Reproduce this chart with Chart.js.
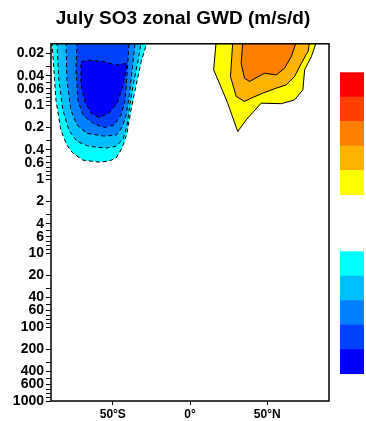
<!DOCTYPE html>
<html>
<head>
<meta charset="utf-8">
<script src="https://cdn.jsdelivr.net/npm/chart.js@4"></script>
<style>
  body { margin: 0; background: #fff; }
</style>
</head>
<body>
<canvas id="gwd" width="366" height="421"></canvas>
<script>
// contour outlines: [latitude, pressure hPa]
// negative (southern) cell, outer to inner
const neg1 = [[-89.4, 0.014], [-88.1, 0.0337], [-86.8, 0.0855], [-83.6, 0.218], [-79.7, 0.347], [-75.8, 0.446], [-69.3, 0.554], [-58.9, 0.589], [-52.4, 0.57], [-47.9, 0.52], [-44.0, 0.381], [-40.8, 0.241], [-38.2, 0.117], [-34.9, 0.054], [-31.6, 0.0258], [-27.7, 0.014]];
const neg2 = [[-86.2, 0.014], [-84.9, 0.0459], [-82.3, 0.117], [-78.4, 0.218], [-73.2, 0.31], [-65.4, 0.36], [-54.3, 0.381], [-47.9, 0.36], [-43.3, 0.29], [-40.7, 0.186], [-38.8, 0.095], [-36.2, 0.0459], [-33.6, 0.0247], [-31.6, 0.014]];
const neg3 = [[-80.3, 0.014], [-79.7, 0.0459], [-77.1, 0.117], [-73.2, 0.186], [-66.7, 0.241], [-55.6, 0.262], [-47.9, 0.255], [-44.0, 0.2], [-41.4, 0.137], [-39.4, 0.077], [-37.5, 0.0337], [-35.5, 0.014]];
const neg4 = [[-73.2, 0.014], [-73.8, 0.0337], [-72.6, 0.0855], [-69.3, 0.137], [-62.1, 0.18], [-55.6, 0.2], [-49.2, 0.186], [-44.7, 0.137], [-42.0, 0.0855], [-40.8, 0.0394], [-39.4, 0.014]];
const neg5 = [[-70.6, 0.0258], [-65.4, 0.0247], [-55.6, 0.0258], [-47.9, 0.0287], [-40.7, 0.0271], [-43.3, 0.0537], [-47.2, 0.094], [-52.4, 0.128], [-58.9, 0.148], [-64.1, 0.128], [-68.0, 0.09], [-70.6, 0.0537]];
// positive (northern) cell, outer to inner
const pos1 = [[16.9, 0.014], [15.3, 0.0333], [19.0, 0.0504], [24.4, 0.094], [30.9, 0.227], [36.4, 0.158], [46.1, 0.094], [59.1, 0.0955], [67.7, 0.0848], [73.1, 0.0621], [74.2, 0.0333], [78.6, 0.022], [81.8, 0.014]];
const pos2 = [[27.7, 0.014], [26.2, 0.041], [29.9, 0.0762], [35.3, 0.0891], [39.6, 0.0804], [47.1, 0.0689], [55.8, 0.0589], [62.3, 0.0532], [67.7, 0.041], [72.1, 0.0271], [76.4, 0.0188], [77.5, 0.014]];
const pos3 = [[34.2, 0.014], [33.1, 0.0271], [35.3, 0.0432], [38.5, 0.0478], [48.2, 0.037], [55.8, 0.039], [61.2, 0.0316], [65.6, 0.022], [68.8, 0.014]];

// colour scale, lowest positive level first / weakest negative level first
const posColors = ["#FFFF00", "#FFB300", "#FF8000", "#FF4000", "#FF0000"];
const negColors = ["#00FFFF", "#00BFFF", "#0080FF", "#0040FF", "#0000FF"];

const latTicks = [-50, 0, 50];
const latLabels = ["50°S", "0°", "50°N"];
const presLabels = [0.02, 0.04, 0.06, 0.1, 0.2, 0.4, 0.6, 1, 2, 4, 6, 10, 20, 40, 60, 100, 200, 400, 600, 1000];

const FONT = "'Liberation Sans', Arial, sans-serif";

// minor ticks at every 1..9 x 10^n between 0.02 and 1000
const presTicks = [];
for (let e = -2; e <= 3; e++) {
  for (let m = 1; m <= 9; m++) {
    const v = Number((m * Math.pow(10, e)).toPrecision(3));
    if (v >= 0.02 && v <= 1000) presTicks.push(v);
  }
}

function contour(points, color, dashed, order) {
  return {
    data: points.concat([points[0]]).map(([x, y]) => ({ x, y })),
    showLine: true,
    fill: "shape",
    backgroundColor: color,
    borderColor: "#000",
    borderWidth: 1,
    borderDash: dashed ? [4, 3] : [],
    pointRadius: 0,
    tension: 0,
    order
  };
}

const colorBar = {
  id: "colorBar",
  afterDraw(chart) {
    const { ctx, chartArea: a } = chart;
    ctx.save();
    const x = a.right + 11, w = 24, h = 24.45;
    // positive block: red on top, yellow at bottom
    posColors.slice().reverse().forEach((c, i) => {
      ctx.fillStyle = c;
      ctx.fillRect(x, 72.3 + i * h, w, h + 0.5);
    });
    negColors.forEach((c, i) => {
      ctx.fillStyle = c;
      ctx.fillRect(x, 251.3 + i * h, w, h + 0.5);
    });
    ctx.strokeStyle = "#000";
    ctx.lineWidth = 1.5;
    ctx.strokeRect(a.left, a.top, a.right - a.left, a.bottom - a.top);
    ctx.restore();
  }
};

new Chart(document.getElementById("gwd"), {
  type: "scatter",
  data: {
    datasets: [
      contour(neg1, negColors[0], true, 5),
      contour(neg2, negColors[1], true, 4),
      contour(neg3, negColors[2], true, 3),
      contour(neg4, negColors[3], true, 2),
      contour(neg5, negColors[4], true, 1),
      contour(pos1, posColors[0], false, 5),
      contour(pos2, posColors[1], false, 4),
      contour(pos3, posColors[2], false, 3)
    ]
  },
  options: {
    responsive: false,
    animation: false,
    layout: { padding: 0 },
    plugins: {
      legend: { display: false },
      tooltip: { enabled: false },
      title: {
        display: true,
        text: "July SO3 zonal GWD (m/s/d)",
        color: "#000",
        font: { family: FONT, size: 19, weight: "bold" },
        padding: { top: 7, bottom: 14 }
      }
    },
    scales: {
      x: {
        type: "linear",
        min: -90,
        max: 90,
        afterBuildTicks: s => { s.ticks = latTicks.map(v => ({ value: v })); },
        afterFit: s => { s.height = 20; s.paddingLeft = 0; s.paddingRight = 0; },
        grid: { drawOnChartArea: false, drawTicks: true, tickLength: 4, color: "#000" },
        border: { display: false },
        ticks: {
          padding: 2,
          color: "#000",
          font: { family: FONT, size: 12, weight: "bold" },
          maxRotation: 0,
          callback: (v, i) => latLabels[i]
        }
      },
      y: {
        type: "logarithmic",
        reverse: true,
        min: 0.0148,
        max: 1000,
        afterBuildTicks: s => { s.ticks = presTicks.map(v => ({ value: v })); },
        afterFit: s => { s.width = 51; s.paddingTop = 0; s.paddingBottom = 0; },
        grid: { drawOnChartArea: false, drawTicks: true, tickLength: 5, color: "#000" },
        border: { display: false },
        ticks: {
          autoSkip: false,
          padding: 2,
          color: "#000",
          font: { family: FONT, size: 14, weight: "bold" },
          callback: (v, i, ticks) => {
            const val = ticks[i].value;
            return presLabels.includes(val) ? String(val) : "";
          }
        }
      },
      y2: {
        type: "linear",
        position: "right",
        grid: { display: false },
        border: { display: false },
        ticks: { display: false },
        afterFit: s => { s.width = 37; }
      }
    }
  },
  plugins: [colorBar]
});
</script>
</body>
</html>
